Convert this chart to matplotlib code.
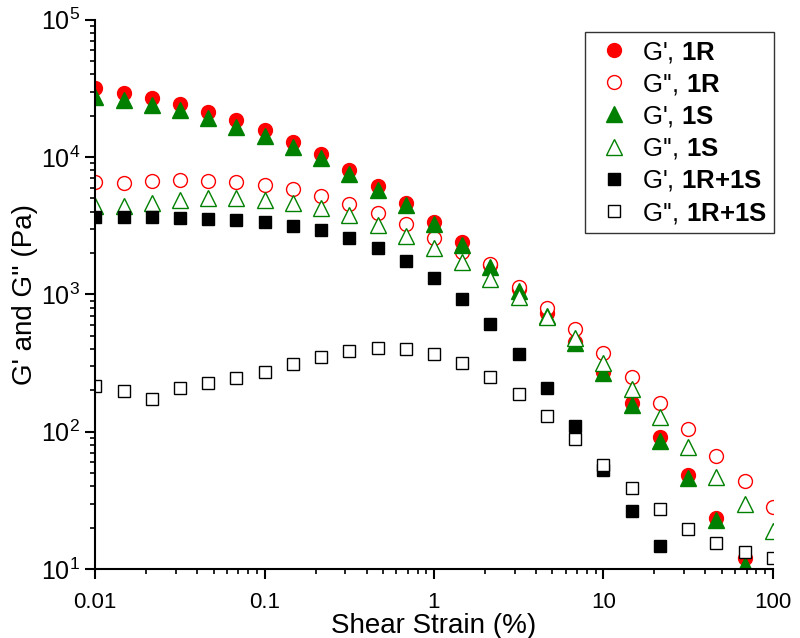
import matplotlib
matplotlib.use("Agg")
import matplotlib.pyplot as plt
from matplotlib.ticker import LogLocator, NullFormatter

plt.rcParams['font.family'] = ['Liberation Sans', 'DejaVu Sans']
plt.rcParams['mathtext.fontset'] = 'custom'
plt.rcParams['mathtext.rm'] = 'Liberation Sans'
plt.rcParams['mathtext.bf'] = 'Liberation Sans:bold'

# strain points (%)
strain = [0.01, 0.0147, 0.0215, 0.0316, 0.0464, 0.0681, 0.1, 0.147, 0.215, 0.316,
          0.464, 0.681, 1, 1.47, 2.15, 3.16, 4.64, 6.81, 10, 14.7, 21.5, 31.6,
          46.4, 68.1, 100]

# moduli (Pa)
gp_1r = [32000, 29400, 27000, 24400, 21400, 18700, 15800, 12900, 10500, 8070,
         6180, 4650, 3380, 2410, 1640, 1100, 733, 451, 272, 162, 91.6, 48.4,
         23.5, 12.0]
gpp_1r = [6570, 6530, 6710, 6820, 6750, 6570, 6280, 5870, 5250, 4560, 3930,
          3270, 2580, 2040, 1670, 1135, 798, 561, 375, 251, 162, 105, 66.5,
          43.8, 28.3]
gp_1s = [27500, 26100, 24000, 22100, 19300, 16600, 14300, 11900, 9880, 7550,
         5770, 4490, 3270, 2300, 1580, 1060, 697, 444, 268, 157, 85.7, 46.0,
         22.8, 10.7]
gpp_1s = [4440, 4440, 4620, 4880, 5000, 5000, 4880, 4620, 4270, 3790, 3210,
          2670, 2180, 1730, 1300, 960, 686, 482, 317, 205, 128, 77.4, 46.8,
          29.8, 18.9]
gp_mix = [3690, 3690, 3660, 3620, 3570, 3490, 3370, 3160, 2930, 2560, 2170,
          1740, 1310, 927, 607, 368, 207, 111, 52.6, 26.6, 14.8]
gpp_mix = [215, 199, 173, 208, 228, 248, 274, 312, 349, 387, 410, 401, 369,
           318, 252, 188, 130, 88.5, 57.2, 38.9, 27.4, 19.6, 15.5, 13.3, 12.0]

fig = plt.figure(figsize=(8, 6.38), dpi=100)
ax = fig.add_axes([0.119, 0.108, 0.847, 0.861])

ax.plot(strain[:len(gp_1r)], gp_1r, 'o', ms=10, color='red', mec='red',
        label="G', $\\mathbf{1R}$")
ax.plot(strain[:len(gpp_1r)], gpp_1r, 'o', ms=10, mfc='white', mec='red', mew=1,
        label="G'', $\\mathbf{1R}$")
ax.plot(strain[:len(gp_1s)], gp_1s, '^', ms=11, color='green', mec='green',
        label="G', $\\mathbf{1S}$")
ax.plot(strain[:len(gpp_1s)], gpp_1s, '^', ms=11, mfc='white', mec='green', mew=1,
        label="G'', $\\mathbf{1S}$")
ax.plot(strain[:len(gp_mix)], gp_mix, 's', ms=8, color='black', mec='black',
        label="G', $\\mathbf{1R{+}1S}$")
ax.plot(strain[:len(gpp_mix)], gpp_mix, 's', ms=8, mfc='white', mec='black', mew=1,
        label="G'', $\\mathbf{1R{+}1S}$")

ax.set_xscale('log')
ax.set_yscale('log')
ax.set_xlim(0.01, 100)
ax.set_ylim(10, 1e5)
ax.set_xticks([0.01, 0.1, 1, 10, 100])
ax.set_xticklabels(['0.01', '0.1', '1', '10', '100'])
ax.xaxis.set_minor_locator(LogLocator(base=10, subs=range(2, 10)))
ax.xaxis.set_minor_formatter(NullFormatter())
ax.yaxis.set_minor_locator(LogLocator(base=10, subs=range(2, 10)))
ax.yaxis.set_minor_formatter(NullFormatter())

for side in ['top', 'right']:
    ax.spines[side].set_visible(False)
for side in ['left', 'bottom']:
    ax.spines[side].set_linewidth(1.5)

ax.tick_params(which='major', direction='out', length=7, width=1.5)
ax.tick_params(which='minor', direction='out', length=3.6, width=1.2)
ax.tick_params(axis='x', which='major', labelsize=16, pad=9.5)
ax.tick_params(axis='y', which='major', labelsize=18, pad=4)

ax.set_xlabel('Shear Strain (%)', fontsize=20, labelpad=0)
ax.set_ylabel("G' and G'' (Pa)", fontsize=20, labelpad=2)

leg = ax.legend(loc='upper right', bbox_to_anchor=(1.002, 0.978), fontsize=18.5,
                frameon=True, fancybox=False, edgecolor='black',
                borderaxespad=0, labelspacing=0.28, handletextpad=0.25,
                borderpad=0.3, handlelength=1.65)
leg.get_frame().set_linewidth(1.0)

fig.savefig('out.png', dpi=100)
